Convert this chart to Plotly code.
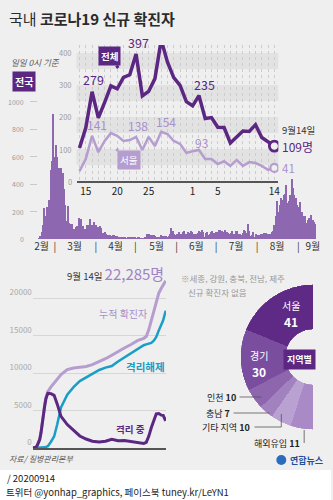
import plotly.graph_objects as go
import pandas as pd

W, H = 333, 500
def fx(x): return x / W
def fy(y): return 1 - y / H

BG = '#efefef'
DARK = '#5b2783'
LIGHT = '#b59dd0'
LIGHT_TXT = '#a98fcb'
BAR = '#8d67af'
TEAL = '#1a9dc7'
NUM_FONT = 'Liberation Sans Narrow, Noto Sans CJK KR'
KR_FONT = 'Noto Sans CJK KR'

# ---------------- data ----------------
daily_start = '2020-02-18'
daily_feb = [1, 20, 53, 100, 229, 169, 231, 144, 284, 505, 571, 909]
daily_mar = [595, 686, 600, 516, 438, 518, 483, 367, 248, 131, 242, 114, 110, 107, 76, 74, 84, 93, 152, 87,
             147, 98, 64, 76, 100, 104, 91, 146, 105, 78, 125]
daily_apr = [101, 89, 86, 94, 81, 47, 47, 53, 39, 27, 30, 32, 25, 27, 27, 22, 22, 18, 8, 13,
             9, 11, 8, 6, 10, 10, 10, 14, 9, 4]
daily_may = [9, 6, 13, 8, 3, 2, 4, 12, 18, 34, 35, 27, 26, 29, 27, 19, 13, 15, 13, 32,
             12, 20, 23, 25, 16, 19, 40, 79, 58, 39, 27]
daily_jun = [35, 38, 49, 39, 39, 51, 57, 38, 38, 50, 45, 56, 48, 34, 37, 34, 43, 59, 49, 67,
             48, 17, 46, 51, 28, 39, 51, 62, 42, 43]
daily_jul = [51, 54, 63, 63, 61, 48, 44, 63, 50, 45, 35, 44, 62, 33, 39, 61, 60, 39, 34, 26,
             45, 63, 59, 41, 113, 58, 25, 28, 48, 18, 36]
daily_aug = [31, 30, 23, 34, 33, 43, 20, 43, 36, 28, 34, 54, 56, 103, 166, 279, 197, 246, 297, 288,
             324, 332, 397, 266, 280, 320, 441, 371, 323, 299, 248]
daily_sep = [235, 267, 195, 198, 168, 167, 119, 136, 156, 155, 176, 136, 121, 109]
daily_cases = daily_feb + daily_mar + daily_apr + daily_may + daily_jun + daily_jul + daily_aug + daily_sep

month_tick_dates = ['2020-02-20', '2020-03-01', '2020-03-16', '2020-04-01', '2020-04-16', '2020-05-01',
                    '2020-05-17', '2020-06-01', '2020-06-16', '2020-07-01', '2020-07-16', '2020-08-01',
                    '2020-08-16', '2020-09-01', '2020-09-12']
month_tick_labels = ['2월', '|', '3월', '|', '4월', '|', '5월', '|', '6월', '|', '7월', '|', '8월', '|', '9월']
bar_ticks = [0, 200, 400, 600, 800, 1000]

# inset: Aug 14 .. Sep 14 (day index 0..31)
recent_days = list(range(32))
recent_tick_idx = [1, 6, 11, 18, 22, 31]
recent_tick_labels = ['15', '20', '25', '1', '5', '14']
recent_y_ticks = [0, 100, 200, 300, 400]
total_recent = [103, 166, 279, 197, 246, 297, 288, 324, 332, 397, 266, 280, 320, 441, 371, 323, 299, 248,
                235, 267, 195, 198, 168, 167, 119, 136, 156, 155, 176, 136, 121, 109]
seoul_recent = [31, 69, 141, 90, 125, 150, 141, 125, 128, 138, 97, 138, 109, 154, 147, 125, 116, 88,
                93, 97, 69, 69, 53, 62, 47, 66, 47, 59, 56, 47, 35, 41]
total_label_idx = [2, 9, 13, 18]
seoul_label_idx = [2, 9, 13, 18]

# cumulative chart
cum_dates = ['2020-02-15', '2020-02-18', '2020-02-20', '2020-02-22', '2020-02-24', '2020-02-26', '2020-02-28',
             '2020-03-01', '2020-03-03', '2020-03-05', '2020-03-07', '2020-03-10', '2020-03-15', '2020-03-20',
             '2020-03-25', '2020-03-31', '2020-04-10', '2020-04-20', '2020-04-30', '2020-05-10', '2020-05-20',
             '2020-05-31', '2020-06-10', '2020-06-20', '2020-06-30', '2020-07-10', '2020-07-20', '2020-07-31',
             '2020-08-10', '2020-08-14', '2020-08-18', '2020-08-22', '2020-08-26', '2020-08-30', '2020-09-03',
             '2020-09-07', '2020-09-10', '2020-09-14']
cum_total = [28, 31, 104, 346, 763, 1146, 2022, 3526, 4812, 5766, 6767, 7513, 8162, 8652, 9137, 9786,
             10450, 10674, 10765, 10874, 11110, 11468, 11902, 12373, 12800, 13338, 13771, 14305,
             14626, 14873, 15761, 17002, 18265, 19699, 20644, 21296, 21743, 22285]
cum_released = [9, 12, 16, 17, 18, 22, 24, 30, 34, 88, 135, 247, 834, 1540, 3166, 5408, 7117, 8114, 8922,
                9419, 9938, 10405, 10718, 10930, 11537, 12065, 12601, 13233, 13703, 13817, 13901, 14006,
                14300, 14800, 15682, 16560, 17023, 18300]
cum_isolated = [19, 19, 88, 327, 738, 1112, 1985, 3480, 4750, 5640, 6590, 7300, 7253, 7017, 5845, 4216,
                3125, 2324, 1603, 1199, 908, 790, 911, 1163, 981, 985, 874, 770, 618, 751, 1560, 2700,
                3660, 4560, 4600, 4380, 4360, 3600]
cum_ticks = [0, 5000, 10000, 15000, 20000]

# regional breakdown (Sep 14)
region_names = ['서울', '경기', '인천', '충남', '기타 지역', '해외유입']
region_values = [41, 30, 10, 7, 10, 11]
region_colors = ['#5e2a86', '#7b4d9f', '#8e66ae', '#a181be', '#b9a1d1', '#a98ac7']

# ---------------- figure ----------------
fig = go.Figure()

daily_dates = pd.date_range(daily_start, periods=len(daily_cases), freq='D')
fig.add_trace(go.Bar(x=daily_dates, y=daily_cases, marker=dict(color=BAR, line=dict(width=0)),
                     xaxis='x', yaxis='y', hoverinfo='skip'))

fig.add_trace(go.Scatter(x=recent_days, y=seoul_recent, mode='lines', line=dict(color=LIGHT, width=2.5),
                         xaxis='x2', yaxis='y2', hoverinfo='skip'))
fig.add_trace(go.Scatter(x=recent_days, y=total_recent, mode='lines', line=dict(color=DARK, width=3.5),
                         xaxis='x2', yaxis='y2', hoverinfo='skip'))
fig.add_trace(go.Scatter(x=[recent_days[-1]], y=[seoul_recent[-1]], mode='markers',
                         marker=dict(color=BG, size=8, line=dict(color=LIGHT, width=2.2)),
                         xaxis='x2', yaxis='y2', hoverinfo='skip'))
fig.add_trace(go.Scatter(x=[recent_days[-1]], y=[total_recent[-1]], mode='markers',
                         marker=dict(color=BG, size=10, line=dict(color=DARK, width=2.8)),
                         xaxis='x2', yaxis='y2', hoverinfo='skip'))

fig.add_trace(go.Scatter(x=cum_dates, y=cum_total, mode='lines', line=dict(color=LIGHT, width=3),
                         xaxis='x3', yaxis='y3', hoverinfo='skip'))
fig.add_trace(go.Scatter(x=cum_dates, y=cum_released, mode='lines', line=dict(color=TEAL, width=2.5),
                         xaxis='x3', yaxis='y3', hoverinfo='skip'))
fig.add_trace(go.Scatter(x=cum_dates, y=cum_isolated, mode='lines', line=dict(color=DARK, width=3),
                         xaxis='x3', yaxis='y3', hoverinfo='skip'))

tot = sum(region_values)
widths, mids, acc = [], [], 0
for v in region_values:
    w = v / tot * 180
    widths.append(w)
    mids.append(acc + w / 2)
    acc += w
fig.add_trace(go.Barpolar(r=[1] * len(region_values), theta=mids, width=widths,
                          marker=dict(color=region_colors, line=dict(width=0)),
                          subplot='polar', hoverinfo='skip'))

# ---------------- annotations ----------------
def T(text, x, y, size=10, color='#333', xanchor='center', yanchor='middle', family=KR_FONT, **kw):
    return dict(text=text, x=fx(x), y=fy(y), xref='paper', yref='paper', xanchor=xanchor,
                yanchor=yanchor, showarrow=False, font=dict(size=size, color=color, family=family), **kw)

ann = []
ann.append(T("국내 <b>코로나19 신규 확진자</b>", 7, 18, 15, '#2b2b2b', xanchor='left'))
ann.append(T("<i>일일 0시 기준</i>", 9, 62, 8.5, '#555', xanchor='left'))
ann.append(T("<b>전국</b>", 24, 81, 10, 'white', bgcolor=DARK, borderpad=2))

# inset value labels
tot_shifts = [(1, 12), (2, 11), (13, 4), (12, 21)]
for i, (xs, ys) in zip(total_label_idx, tot_shifts):
    ann.append(dict(text=str(total_recent[i]), x=i, y=total_recent[i], xref='x2', yref='y2',
                    xshift=xs, yshift=ys, showarrow=False,
                    font=dict(size=12.5, color=DARK, family=NUM_FONT)))
seoul_shifts = [(5, 11), (2, 11), (5, 10), (9, 9)]
for i, (xs, ys) in zip(seoul_label_idx, seoul_shifts):
    ann.append(dict(text=str(seoul_recent[i]), x=i, y=seoul_recent[i], xref='x2', yref='y2',
                    xshift=xs, yshift=ys, showarrow=False,
                    font=dict(size=12, color=LIGHT_TXT, family=NUM_FONT)))
ann.append(dict(text="9월14일", x=recent_days[-1], y=total_recent[-1], xref='x2', yref='y2',
                xanchor='left', xshift=6, yshift=16, showarrow=False,
                font=dict(size=9.5, color='#333', family=NUM_FONT)))
ann.append(dict(text="109명", x=recent_days[-1], y=total_recent[-1], xref='x2', yref='y2',
                xanchor='left', xshift=6, yshift=0, showarrow=False,
                font=dict(size=12, color=DARK, family=NUM_FONT)))
ann.append(dict(text="41", x=recent_days[-1], y=seoul_recent[-1], xref='x2', yref='y2',
                xanchor='left', xshift=6, yshift=0, showarrow=False,
                font=dict(size=11.5, color=LIGHT_TXT, family=NUM_FONT)))

# inset y tick labels (drawn against the inset's own y scale)
for v in recent_y_ticks:
    ann.append(dict(text=str(v), x=0, y=v, xref='x2 domain', yref='y2', xanchor='right', xshift=-3,
                    showarrow=False, font=dict(size=7.5, color='#9c9c9c', family=NUM_FONT)))
# bar y tick labels
for v in bar_ticks:
    ann.append(dict(text=str(v), x=0, y=v, xref='x domain', yref='y', xanchor='right', xshift=-4,
                    showarrow=False, font=dict(size=7, color='#9c9c9c', family=NUM_FONT)))

# series tag boxes
ann.append(dict(text="<b>전체</b>", x=fx(119), y=fy(68), xref='paper', yref='paper', ax=-9, ay=-12,
                showarrow=True, arrowhead=0, arrowwidth=3, arrowcolor=DARK, standoff=0,
                bgcolor=DARK, borderpad=2, font=dict(size=9.5, color='white', family=KR_FONT)))
ann.append(dict(text="서울", x=fx(117), y=fy(149), xref='paper', yref='paper', ax=13, ay=11,
                showarrow=True, arrowhead=0, arrowwidth=3, arrowcolor=LIGHT, standoff=0,
                bgcolor=LIGHT, borderpad=2, font=dict(size=9.5, color='white', family=KR_FONT)))

# cumulative chart labels
ann.append(T("9월 14일 <span style='color:#a083c6;font-size:15px'>22,285명</span>", 167, 273, 9.5, '#333',
             xanchor='right', family=NUM_FONT))
ann.append(T("누적 확진자", 124, 313, 10, LIGHT_TXT))
ann.append(T("<b>격리해제</b>", 146, 366, 10.5, TEAL))
ann.append(T("<b>격리 중</b>", 131, 429, 9.5, DARK))
ann.append(T("<i>자료/ 질병관리본부</i>", 7, 458, 8, '#555', xanchor='left'))

# region labels
ann.append(T("※세종, 강원, 충북, 전남, 제주", 180, 278, 8.5, '#999', xanchor='left'))
ann.append(T("신규 확진자 없음", 187, 292, 8.5, '#999', xanchor='left'))
ann.append(T(region_names[0], 293, 305, 10, 'white'))
ann.append(T("<b>%d</b>" % region_values[0], 293, 321, 12, 'white', family=NUM_FONT))
ann.append(T(region_names[1], 261, 355, 10, 'white'))
ann.append(T("<b>%d</b>" % region_values[1], 261, 371, 12, 'white', family=NUM_FONT))
ann.append(T("<b>지역별</b>", 301, 359, 9, 'white', bgcolor=DARK, borderpad=3))
ann.append(T("%s <b>%d</b>" % (region_names[2], region_values[2]), 239, 397, 9, '#222', xanchor='right'))
ann.append(T("%s <b>%d</b>" % (region_names[3], region_values[3]), 233, 413, 9, '#222', xanchor='right'))
ann.append(T("%s <b>%d</b>" % (region_names[4], region_values[4]), 254, 427, 9, '#222', xanchor='right'))
ann.append(T("%s <b>%d</b>" % (region_names[5], region_values[5]), 304, 443, 9, '#222', xanchor='right'))

# logo & footer
ann.append(T("<b>연합뉴스</b>", 290, 460, 9, '#1d4f9a', xanchor='left'))
ann.append(T("/ 20200914", 5, 478, 9.5, '#222', xanchor='left'))
ann.append(T("트위터 @yonhap_graphics, 페이스북 tuney.kr/LeYN1", 4, 492, 9.5, '#222', xanchor='left'))

# ---------------- shapes ----------------
shapes = []
shapes.append(dict(type='rect', xref='paper', yref='paper', x0=0, x1=1, y0=0, y1=fy(470),
                   fillcolor='white', line=dict(width=0), layer='below'))
for lo, hi in [(50, 100), (150, 200), (250, 300), (350, 400)]:
    shapes.append(dict(type='rect', xref='x2 domain', yref='y2', x0=0, x1=1, y0=lo, y1=hi,
                       fillcolor='#e2e2e2', line=dict(width=0), layer='below'))
def L(x0, y0, x1, y1):
    return dict(type='line', xref='paper', yref='paper', x0=fx(x0), y0=fy(y0), x1=fx(x1), y1=fy(y1),
                line=dict(color='#555', width=0.8))
shapes += [L(241, 397, 263, 397), L(235, 413, 271, 413), L(256, 427, 283, 427), L(283, 427, 283, 414),
           L(306, 443, 306, 430)]
shapes.append(dict(type='circle', xref='paper', yref='paper', x0=fx(278), x1=fx(288), y0=fy(465), y1=fy(455),
                   fillcolor='#2a6cc0', line=dict(width=0)))

fig.update_layout(
    width=W, height=H, margin=dict(l=0, r=0, t=0, b=0),
    paper_bgcolor=BG, plot_bgcolor='rgba(0,0,0,0)', showlegend=False, bargap=0,
    font=dict(family=KR_FONT, color='#333'),
    xaxis=dict(domain=[fx(30), fx(320)], type='date', range=['2020-02-11 04:00', '2020-09-16'],
               tickvals=month_tick_dates, ticktext=month_tick_labels, ticks='', showgrid=False,
               zeroline=False, showline=False, tickfont=dict(size=10, color='#333'), anchor='y'),
    yaxis=dict(domain=[fy(239), fy(95)], range=[0, 1051], tickvals=bar_ticks, showticklabels=False,
               ticks='inside', ticklen=7, tickcolor='#c8c8c8', tickwidth=1, showgrid=False,
               zeroline=False, showline=False, anchor='x'),
    xaxis2=dict(domain=[fx(77), fx(280)], range=[-0.47, 31.63], tickvals=recent_tick_idx,
                ticktext=recent_tick_labels, ticks='', showline=True, linecolor='#555', linewidth=1.5,
                showgrid=True, gridcolor='#cdcdcd', griddash='dot', gridwidth=1,
                minor=dict(dtick=1, tick0=0, showgrid=True, gridcolor='#cdcdcd', griddash='dot', gridwidth=1),
                zeroline=False, tickfont=dict(size=10, color='#222', family=NUM_FONT), anchor='y2'),
    yaxis2=dict(domain=[fy(181), fy(45)], range=[0, 425], tickvals=recent_y_ticks, showticklabels=False,
                showgrid=False, zeroline=False, ticks='', anchor='x2'),
    xaxis3=dict(domain=[fx(33), fx(167)], type='date', range=['2020-02-15', '2020-09-14 12:00'],
                showline=True, linecolor='#555', linewidth=1.5, showticklabels=False, ticks='',
                showgrid=False, zeroline=False, anchor='y3'),
    yaxis3=dict(domain=[fy(448), fy(275)], range=[0, 23067], tickvals=cum_ticks, tickformat='d',
                showgrid=True, gridcolor='#d6d6d6', gridwidth=1, zeroline=False, ticks='',
                ticklabelposition='outside top', tickfont=dict(size=8, color='#aaa', family=NUM_FONT),
                anchor='x3'),
    polar=dict(domain=dict(x=[fx(242), fx(315)], y=[fy(430), fy(284)]), sector=[90, 270], hole=0.38,
               bgcolor='rgba(0,0,0,0)',
               radialaxis=dict(visible=False, range=[0, 1]),
               angularaxis=dict(visible=False, rotation=90, direction='counterclockwise')),
    annotations=ann, shapes=shapes,
)

fig.write_html("out.html")
